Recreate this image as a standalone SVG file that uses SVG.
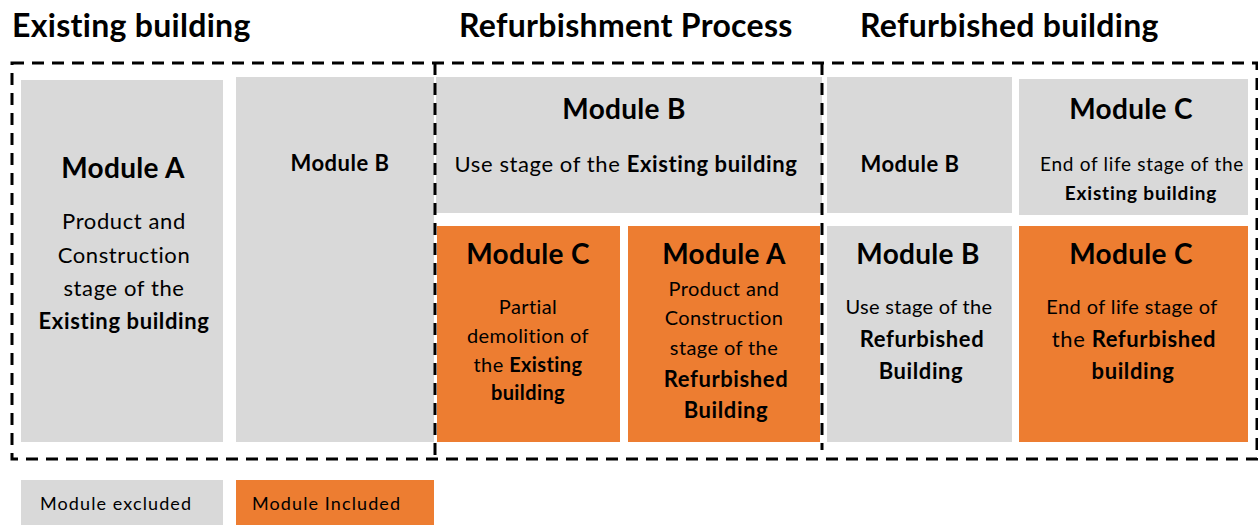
<svg xmlns="http://www.w3.org/2000/svg" width="1258" height="525" viewBox="0 0 1258 525">
<style>
text{font-family:Lato,"Open Sans","Liberation Sans",sans-serif;fill:#000;text-anchor:middle}
.g{fill:#D9D9D9}
.o{fill:#ED7D31}
.h{font-size:32px;font-weight:bold;text-anchor:start;letter-spacing:0.3px}
.t{font-size:28px;font-weight:bold;letter-spacing:0.3px}
.s{font-size:22px;font-weight:bold;letter-spacing:0.5px}
.b{font-size:22px;letter-spacing:0.6px}
.m{font-size:20px;letter-spacing:0.4px}
.r{font-size:22px;letter-spacing:0.6px}
.bb{font-weight:bold}
.d{fill:none;stroke:#000;stroke-width:3;stroke-dasharray:12 8}
.l{font-size:18px;text-anchor:start;letter-spacing:1.1px}
</style>
<rect width="1258" height="525" fill="#fff"/>
<g id="headers">
<text class="h" x="12" y="37">Existing building</text>
<text class="h" x="459" y="37">Refurbishment Process</text>
<text class="h" x="860" y="37">Refurbished building</text>
</g>
<g id="existing-moduleA">
<rect class="g" x="21" y="80" width="202" height="362"/>
<text class="t" x="123" y="178">Module A</text>
<text class="b" x="124" y="229">Product and</text>
<text class="b" x="124" y="263">Construction</text>
<text class="b" x="124" y="296">stage of the</text>
<text class="b bb" x="124" y="329">Existing building</text>
</g>
<g id="existing-moduleB">
<rect class="g" x="236" y="77" width="198" height="365"/>
<text class="s" x="340" y="171">Module B</text>
</g>
<g id="process-moduleB">
<rect class="g" x="436" y="77" width="386" height="136"/>
<text class="t" x="624" y="119">Module B</text>
<text class="b" x="626" y="172">Use stage of the <tspan class="bb">Existing building</tspan></text>
</g>
<g id="process-moduleC">
<rect class="o" x="437" y="226" width="183" height="216"/>
<text class="t" x="528" y="264">Module C</text>
<text class="m" x="528" y="314">Partial</text>
<text class="m" x="528" y="343">demolition of</text>
<text class="m" x="528" y="372">the <tspan class="bb">Existing</tspan></text>
<text class="m bb" x="528" y="400">building</text>
</g>
<g id="process-moduleA">
<rect class="o" x="628" y="226" width="192" height="216"/>
<text class="t" x="724" y="264">Module A</text>
<text class="m" x="724" y="296">Product and</text>
<text class="m" x="724" y="325">Construction</text>
<text class="m" x="724" y="355">stage of the</text>
<text class="r bb" x="726" y="387">Refurbished</text>
<text class="r bb" x="726" y="418">Building</text>
</g>
<g id="refurbished-moduleB-top">
<rect class="g" x="827" y="77" width="185" height="136"/>
<text class="s" x="910" y="172">Module B</text>
</g>
<g id="refurbished-moduleC-top">
<rect class="g" x="1019" y="79" width="229" height="136"/>
<text class="t" x="1131" y="119">Module C</text>
<text class="b" x="1142" y="171" style="font-size:19px;letter-spacing:0.7px">End of life stage of the</text>
<text class="b bb" x="1141" y="200" style="font-size:19px;letter-spacing:0.8px">Existing building</text>
</g>
<g id="refurbished-moduleB">
<rect class="g" x="827" y="226" width="185" height="216"/>
<text class="t" x="918" y="264">Module B</text>
<text class="m" x="919" y="314" style="letter-spacing:0.3px">Use stage of the</text>
<text class="r bb" x="922" y="347">Refurbished</text>
<text class="r bb" x="921" y="379">Building</text>
</g>
<g id="refurbished-moduleC">
<rect class="o" x="1019" y="226" width="229" height="216"/>
<text class="t" x="1131" y="264">Module C</text>
<text class="m" x="1132" y="314">End of life stage of</text>
<text class="r" x="1134" y="347">the <tspan class="bb">Refurbished</tspan></text>
<text class="r bb" x="1133" y="379">building</text>
</g>
<g id="boundaries">
<rect class="d" x="12" y="63" width="1245" height="396"/>
<line class="d" x1="435" y1="63" x2="435" y2="459"/>
<line class="d" x1="822" y1="63" x2="822" y2="450"/>
</g>
<g id="legend">
<rect class="g" x="21" y="480" width="202" height="45"/>
<text class="l" x="40" y="510">Module excluded</text>
<rect class="o" x="236" y="480" width="198" height="45"/>
<text class="l" x="252" y="510">Module Included</text>
</g>
</svg>
